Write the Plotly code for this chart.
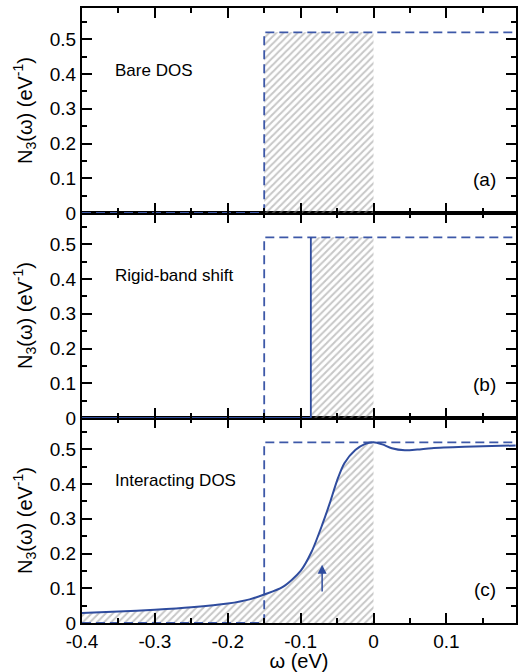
import plotly.graph_objects as go

# ---------------- data ----------------
# bare DOS (step function)
omega_bare = [-0.4, -0.15, -0.15, 0.2]
dos_bare = [0.0, 0.0, 0.52, 0.52]
bare_edge = -0.15
dos_top = 0.52

# rigid-band shifted DOS
shift_edge = -0.086
omega_shift = [-0.4, -0.086, -0.086]
dos_shift = [0.0, 0.0, 0.52]

# interacting DOS
omega_int = [-0.40, -0.35, -0.30, -0.25, -0.20, -0.17, -0.15, -0.125, -0.10, -0.085,
             -0.07, -0.06, -0.05, -0.04, -0.025, -0.012, 0.0, 0.012, 0.025, 0.043,
             0.06, 0.08, 0.125, 0.195]
dos_int = [0.029, 0.033, 0.038, 0.045, 0.056, 0.068, 0.082, 0.103, 0.150, 0.205,
           0.285, 0.345, 0.410, 0.460, 0.498, 0.515, 0.520, 0.514, 0.503, 0.497,
           0.499, 0.503, 0.507, 0.511]

# arrow (omega, start, end)
arrow_omega = -0.0705
arrow_from = 0.086
arrow_to = 0.168

x_tick_vals = [-0.4, -0.3, -0.2, -0.1, 0.0, 0.1]
x_tick_text = ["-0.4", "-0.3", "-0.2", "-0.1", "0", "0.1"]
y_tick_vals = [0, 0.1, 0.2, 0.3, 0.4, 0.5]
y_tick_text = ["0", "0.1", "0.2", "0.3", "0.4", "0.5"]

panel_names = ["Bare DOS", "Rigid-band shift", "Interacting DOS"]
panel_tags = ["(a)", "(b)", "(c)"]

# ---------------- styles ----------------
FONT = "Liberation Sans, Arial, Helvetica, sans-serif"
DASH_COL = "#3d58a8"
LINE_COL = "#2f4c9e"
HATCH = dict(shape="/", fgcolor="#8f8f8f", bgcolor="rgba(0,0,0,0)", size=5, solidity=0.4)

fig = go.Figure()

# panel axes: a -> (x3,y3) top, b -> (x2,y2) middle, c -> (x,y) bottom
axes = [("x3", "y3"), ("x2", "y2"), ("x", "y")]

def hatch_trace(xs, ys, xa, ya):
    return go.Scatter(x=xs, y=ys, xaxis=xa, yaxis=ya, mode="lines", line=dict(width=0),
                      fill="tozeroy", fillcolor="rgba(0,0,0,0)", fillpattern=HATCH,
                      hoverinfo="skip", showlegend=False)

# panel a hatch: occupied bare states
fig.add_trace(hatch_trace([bare_edge, 0.0], [dos_top, dos_top], "x3", "y3"))
# panel b hatch: occupied shifted states
fig.add_trace(hatch_trace([shift_edge, 0.0], [dos_top, dos_top], "x2", "y2"))
# panel c hatch: occupied interacting states
occ_x = [w for w in omega_int if w <= 0]
occ_y = [d for w, d in zip(omega_int, dos_int) if w <= 0]
fig.add_trace(go.Scatter(x=occ_x, y=occ_y, xaxis="x", yaxis="y", mode="lines",
                         line=dict(width=0, shape="spline", smoothing=0.8),
                         fill="tozeroy", fillcolor="rgba(0,0,0,0)", fillpattern=HATCH,
                         hoverinfo="skip", showlegend=False))

# dashed bare DOS in all panels
for xa, ya in axes:
    fig.add_trace(go.Scatter(x=omega_bare, y=dos_bare, xaxis=xa, yaxis=ya, mode="lines",
                             line=dict(color=DASH_COL, width=1.8, dash="9px,5px"),
                             showlegend=False, hoverinfo="skip"))

# rigid band shift solid line
fig.add_trace(go.Scatter(x=omega_shift, y=dos_shift, xaxis="x2", yaxis="y2", mode="lines",
                         line=dict(color=LINE_COL, width=1.8), showlegend=False))

# interacting DOS curve
fig.add_trace(go.Scatter(x=omega_int, y=dos_int, xaxis="x", yaxis="y", mode="lines",
                         line=dict(color=LINE_COL, width=2, shape="spline", smoothing=0.8),
                         showlegend=False))

xbase = dict(range=[-0.4, 0.1955], tickmode="array", tickvals=x_tick_vals, ticktext=x_tick_text,
             ticks="inside", ticklen=10, tickwidth=1.5, tickcolor="black",
             showline=True, linewidth=2, linecolor="black", mirror="ticks",
             showgrid=False, zeroline=False,
             minor=dict(tickmode="linear", tick0=0, dtick=0.05, ticks="inside", ticklen=5,
                        tickwidth=1.5, tickcolor="black", showgrid=False),
             tickfont=dict(family=FONT, size=19, color="black"))
ybase = dict(range=[0, 0.59], tickmode="array", tickvals=y_tick_vals, ticktext=y_tick_text,
             ticks="inside", ticklen=10, tickwidth=1.5, tickcolor="black",
             showline=True, linewidth=2, linecolor="black", mirror="ticks",
             showgrid=False, zeroline=False,
             minor=dict(tickmode="linear", tick0=0, dtick=0.05, ticks="inside", ticklen=5,
                        tickwidth=1.5, tickcolor="black", showgrid=False),
             tickfont=dict(family=FONT, size=19, color="black"),
             title=dict(text="N<sub>3</sub>(ω) (eV<sup>-1</sup>)", standoff=12,
                        font=dict(family=FONT, size=20, color="black")))

third = 1.0 / 3.0
fig.update_layout(
    width=518, height=672,
    margin=dict(l=82, r=0, t=8, b=49),
    paper_bgcolor="white", plot_bgcolor="white",
    showlegend=False,
    xaxis=dict(xbase, anchor="y", domain=[0, 1],
               title=dict(text="ω (eV)", standoff=0, font=dict(family=FONT, size=20, color="black"))),
    xaxis2=dict(xbase, anchor="y2", domain=[0, 1], matches="x", showticklabels=False),
    xaxis3=dict(xbase, anchor="y3", domain=[0, 1], matches="x", showticklabels=False),
    yaxis=dict(ybase, anchor="x", domain=[0, third]),
    yaxis2=dict(ybase, anchor="x2", domain=[third, 2 * third]),
    yaxis3=dict(ybase, anchor="x3", domain=[2 * third, 1]),
)

annotations = []
for (xa, ya), name, tag in zip(axes, panel_names, panel_tags):
    annotations.append(dict(x=-0.358, y=0.41, xref=xa, yref=ya, text=name, showarrow=False,
                            xanchor="left", yanchor="middle",
                            font=dict(family=FONT, size=17, color="black")))
    annotations.append(dict(x=0.171, y=0.095, xref=xa, yref=ya, text=tag, showarrow=False,
                            xanchor="right", yanchor="middle",
                            font=dict(family=FONT, size=19, color="black")))
annotations.append(dict(x=arrow_omega, y=arrow_to, ax=arrow_omega, ay=arrow_from,
                        xref="x", yref="y", axref="x", ayref="y", text="",
                        showarrow=True, arrowhead=2, arrowsize=1.2, arrowwidth=1.5,
                        arrowcolor=LINE_COL))
fig.update_layout(annotations=annotations)

fig.write_html("out.html", config={"displayModeBar": False},
               post_script="document.body.style.margin='0';document.body.style.overflow='hidden';")
